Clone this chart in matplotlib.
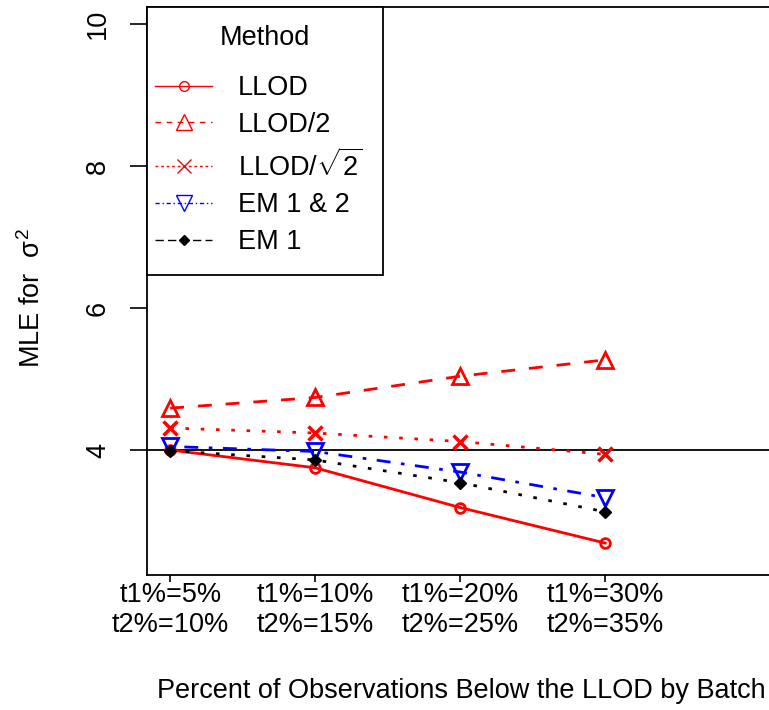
import matplotlib
matplotlib.use("Agg")
import matplotlib.pyplot as plt
from matplotlib.lines import Line2D
from matplotlib.patches import Rectangle

plt.rcParams["font.family"] = ["Liberation Sans", "DejaVu Sans"]
plt.rcParams["mathtext.fontset"] = "custom"
plt.rcParams["mathtext.rm"] = "Liberation Sans"
plt.rcParams["mathtext.it"] = "Liberation Sans"

# ---- data ----------------------------------------------------------------
x_labels = ["t1%=5%\nt2%=10%", "t1%=10%\nt2%=15%",
            "t1%=20%\nt2%=25%", "t1%=30%\nt2%=35%"]
x_pos = [1, 2, 3, 4]
llod = [4.00, 3.75, 3.19, 2.69]
llod_half = [4.59, 4.74, 5.04, 5.27]
llod_sqrt2 = [4.31, 4.24, 4.12, 3.94]
em12 = [4.05, 3.98, 3.69, 3.33]
em1 = [3.99, 3.86, 3.54, 3.13]
true_value = 4

# ---- figure --------------------------------------------------------------
W, H = 769, 710
fig = plt.figure(figsize=(W / 100, H / 100), dpi=100)
ax = fig.add_axes([147 / W, 135 / H, 1 - 147 / W, 568 / H])

FS = 19.5
LW = 2.0
DOTTED = (0, (1.3, 4.2))
DASHED = (0, (5, 5))
DOTDASH = (0, (1.3, 3.8, 5, 3.8))

ax.plot(x_pos, llod, color="red", lw=LW, ls="-", marker="o", ms=7,
        mfc="none", mec="red", mew=2, zorder=3)
ax.plot(x_pos, llod_half, color="red", lw=LW, ls=DASHED, marker="^", ms=12,
        mfc="none", mec="red", mew=2, zorder=3)
ax.plot(x_pos, llod_sqrt2, color="red", lw=LW, ls=DOTTED, marker="x", ms=10,
        mec="red", mew=2.5, zorder=3)
ax.plot(x_pos, em12, color="blue", lw=LW, ls=DOTDASH, marker="v", ms=12,
        mfc="none", mec="blue", mew=2, zorder=3)
ax.plot(x_pos, em1, color="black", lw=LW, ls=DOTTED, marker="D", ms=6,
        mfc="black", mec="black", mew=1, zorder=3)

ax.axhline(true_value, color="black", lw=1.3, zorder=2)

ax.set_xlim(0.84, 5.13)
ax.set_ylim(2.24, 10.24)
ax.set_yticks([4, 6, 8, 10])
ax.set_yticklabels(["4", "6", "8", "10"], rotation=90, va="center",
                   fontsize=FS)
ax.set_xticks(x_pos)
ax.set_xticklabels(x_labels, fontsize=FS, linespacing=1.2)
ax.tick_params(axis="y", length=12, width=1.2, pad=14)
ax.tick_params(axis="x", length=5, width=1.2, pad=0)

for s in ["left", "bottom", "top"]:
    ax.spines[s].set_linewidth(1.3)
ax.spines["right"].set_visible(False)

fig.text(32 / W, 1 - 298 / H, r"MLE for  $\sigma^2$", rotation=90,
         ha="center", va="center", fontsize=FS)
fig.text(0.6, 0.008, "Percent of Observations Below the LLOD by Batch",
         ha="center", va="bottom", fontsize=FS)

# legend: R-style box, wider than its content
box = Rectangle((147 / W, 1 - 275 / H), (383 - 147) / W, (275 - 7) / H,
                transform=fig.transFigure, facecolor="white",
                edgecolor="black", lw=1.3, zorder=4)
ax.add_patch(box)
box.set_clip_on(False)

handles = [
    Line2D([0], [0], color="red", lw=1, ls="-", marker="o", ms=7,
           mfc="none", mec="red"),
    Line2D([0], [0], color="red", lw=1, ls=(0, (4, 4)), marker="^", ms=12,
           mfc="none", mec="red"),
    Line2D([0], [0], color="red", lw=1, ls=(0, (2, 2)), marker="x", ms=10,
           mec="red"),
    Line2D([0], [0], color="blue", lw=1, ls=(0, (3, 2, 1, 2)), marker="v",
           ms=12, mfc="none", mec="blue"),
    Line2D([0], [0], color="black", lw=1, ls=(0, (6, 3)), marker="D", ms=5,
           mfc="black", mec="black"),
]
labels = ["LLOD", "LLOD/2", r"LLOD/$\sqrt{2}$", "EM 1 & 2", "EM 1"]
leg = ax.legend(handles, labels, loc="upper left",
                bbox_to_anchor=(0, 1 - 60 / 568), borderaxespad=0,
                fontsize=FS, frameon=False, handlelength=2.1,
                handletextpad=0.95, labelspacing=0.4, borderpad=0.3)
leg.set_zorder(5)
ax.text(265 / W, 1 - 38 / H, "Method", transform=fig.transFigure,
        ha="center", va="center", fontsize=FS, zorder=6)

fig.savefig("out.png", dpi=100, facecolor="white")
